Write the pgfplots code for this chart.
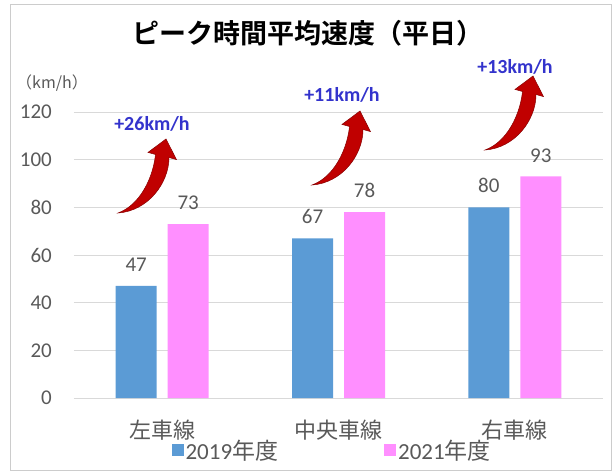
\documentclass[border=0pt]{standalone}
\usepackage{fontspec}
\setmainfont{Carlito}
\newfontfamily\cjk{Noto Sans CJK JP}[BoldFont={Noto Sans CJK JP Bold}]
\usepackage{pgfplots}
\pgfplotsset{compat=1.18}
\definecolor{bblue}{HTML}{5B9BD5}
\definecolor{bpink}{HTML}{FF8FFF}
\definecolor{tgray}{HTML}{595959}
\definecolor{ggray}{HTML}{D9D9D9}
\definecolor{annblue}{HTML}{3333CC}
\definecolor{arrred}{HTML}{C00000}
\newcommand\bigarrow[1]{%
 \begin{scope}[shift={#1}]
 \fill[arrred, draw=arrred!70!black, line width=0.5pt] (0pt,0pt) .. controls (30pt,2pt) and (51pt,30pt) .. (51pt,55.5pt) -- (58.5pt,53.4pt) -- (48pt,74pt) -- (30pt,60.6pt) -- (37.5pt,58.5pt) .. controls (35pt,35pt) and (22pt,8pt) .. (0pt,0pt) -- cycle;
 \end{scope}}
\begin{document}
\begin{tikzpicture}
\begin{axis}[name=ax, at={(0,0)}, anchor=south west, scale only axis, width=529pt, height=286pt,
 /pgf/number format/assume math mode=true,
 ybar=11pt, bar width=41pt,
 xmin=-0.5, xmax=2.5, ymin=0, ymax=120,
 xtick={0,1,2}, xticklabels={左車線,中央車線,右車線},
 ytick={0,20,...,120},
 ymajorgrids, major grid style={ggray, line width=0.8pt},
 axis line style={draw=none}, major tick length=0pt,
 tick label style={text=tgray},
 yticklabel style={font=\fontsize{21}{25}\selectfont, inner sep=0pt, anchor=east, xshift=-22pt},
 xticklabel style={font=\cjk\fontsize{22}{26}\selectfont, inner sep=0pt, anchor=center, yshift=-32pt},
 nodes near coords,
 every node near coord/.append style={font=\fontsize{21}{25}\selectfont, text=tgray, inner sep=0pt, yshift=14pt},
 legend columns=2,
 legend style={at={(0.488,-0.182)}, anchor=center, draw=none, fill=none, font=\fontsize{23}{27}\selectfont, text=tgray, /tikz/every even column/.append style={column sep=104pt}},
 clip=false]
\addplot[fill=bblue, draw=none, legend image code/.code={\fill[bblue] (0pt,-6pt) rectangle (12pt,6pt);}] coordinates {(0,47) (1,67) (2,80)};
\addplot[fill=bpink, draw=none, legend image code/.code={\fill[bpink] (0pt,-6pt) rectangle (12pt,6pt);}] coordinates {(0,73) (1,78) (2,93)};
\legend{2019{\cjk 年度}, 2021{\cjk 年度}}
\end{axis}
\bigarrow{(44pt,185pt)}
\bigarrow{(238pt,213pt)}
\bigarrow{(411pt,248pt)}
\node[font=\fontsize{20}{23}\selectfont\bfseries, text=annblue] at (78pt,274pt) {+26km/h};
\node[font=\fontsize{20}{23}\selectfont\bfseries, text=annblue] at (268pt,303pt) {+11km/h};
\node[font=\fontsize{20}{23}\selectfont\bfseries, text=annblue] at (441pt,331pt) {+13km/h};
\node[font=\cjk\bfseries\fontsize{27}{32}\selectfont] at (234pt,365pt) {ピーク時間平均速度（平日）};
\node[font=\cjk\fontsize{16}{19}\selectfont, text=tgray] at (-22pt,315pt) {（km/h）};
\draw[gray!40, line width=1pt] (-63pt,-72pt) rectangle (537pt,393pt);
\pgfresetboundingbox
\path[use as bounding box] (-74pt,-76pt) rectangle (539pt,398pt);
\end{tikzpicture}
\end{document}
